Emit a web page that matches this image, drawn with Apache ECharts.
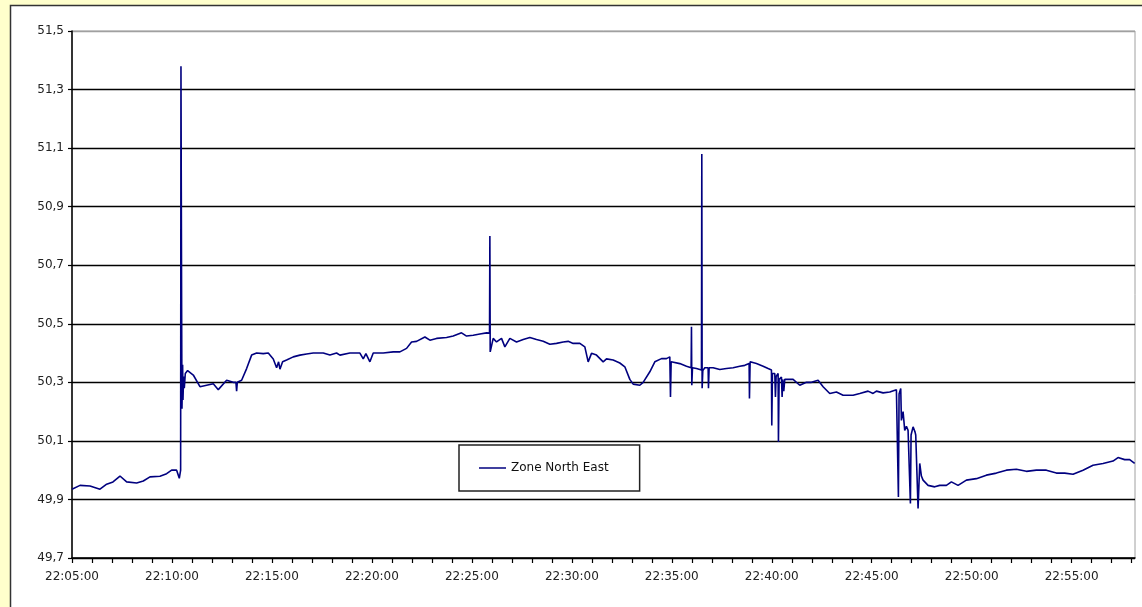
<!DOCTYPE html>
<html>
<head>
<meta charset="utf-8">
<script src="https://cdn.jsdelivr.net/npm/echarts@6/dist/echarts.min.js"></script>
<style>
  html, body { margin: 0; padding: 0; background: #FFFFCC; }
  #chart { width: 1142px; height: 607px; }
</style>
</head>
<body>
<div id="chart"></div>
<script>
// seconds after 22:05:00
const seconds = [
  0,24,54,84,104,123,144,164,194,214,234,264,284,299,314,322,326,327,328,329,330,332,333,335,337,340,347,364,384,404,424,439,464,484,492,494,496,509,524,539,554,574,589,604,614,620,624,627,632,644,664,684,704,724,754,774,794,
  804,834,864,874,882,894,904,934,964,984,1004,1019,1034,1059,1074,1094,1124,1144,1169,1184,1204,1224,1244,1253,1254,1255,1264,1274,1289,1299,1314,1334,1354,1374,1394,1414,1434,1454,1474,1489,1504,1524,1539,1549,1559,1574,1594,1604,1624,1644,
  1659,1674,1684,1704,1714,1734,1749,1769,1784,1794,1796,1798,1804,1824,1844,1858,1859,1860,1862,1874,1889,1890,1891,1893,1899,1909,1910,1912,1924,1944,1964,1984,2004,2019,2032,2033,2035,2039,2054,2074,2089,2099,2100,2102,2109,2111,2113,2119,2120,2122,2129,2131,2133,2136,2139,2144,2164,2184,2204,2219,2239,2254,2274,2294,2314,2344,2364,2389,2404,2414,2434,2454,2474,
  2479,2480,2482,2487,2489,2494,2499,2504,2509,2515,2516,2518,2524,2530,2532,2539,2544,2549,2554,2569,2589,2604,2624,2639,2659,2684,2714,2744,2774,2804,2834,2864,2894,2924,2954,2979,3004,3034,3064,3094,3124,3139,3159,3174,3189
];
const frequency = [
  49.935,49.948,49.946,49.935,49.952,49.96,49.98,49.96,49.956,49.963,49.977,49.979,49.988,50.0,50.0,49.972,50.0,51.38,50.95,50.55,50.21,50.36,50.24,50.32,50.28,50.33,50.34,50.325,50.285,50.29,50.295,50.275,50.307,50.30,50.30,50.27,50.30,50.307,50.347,50.393,50.40,50.398,50.40,50.38,50.35,50.37,50.345,50.34,50.37,50.376,50.387,50.393,50.397,50.40,50.40,50.393,50.40,
  50.393,50.40,50.40,50.38,50.398,50.37,50.40,50.40,50.404,50.404,50.416,50.438,50.44,50.455,50.444,50.45,50.453,50.458,50.469,50.458,50.461,50.465,50.469,50.468,50.80,50.404,50.45,50.438,50.45,50.421,50.45,50.438,50.446,50.453,50.446,50.44,50.43,50.433,50.438,50.44,50.433,50.433,50.421,50.37,50.399,50.393,50.37,50.38,50.376,50.366,
  50.353,50.31,50.294,50.29,50.30,50.336,50.37,50.381,50.381,50.387,50.25,50.37,50.37,50.364,50.355,50.35,50.49,50.29,50.35,50.347,50.342,51.08,50.28,50.34,50.35,50.35,50.28,50.35,50.35,50.344,50.347,50.35,50.355,50.358,50.364,50.245,50.37,50.376,50.364,50.355,50.347,50.342,50.153,50.33,50.33,50.25,50.32,50.33,50.096,50.31,50.318,50.25,50.31,50.27,50.31,50.307,50.31,50.29,50.30,50.30,50.307,50.285,50.262,50.267,50.256,50.256,50.262,50.27,50.262,50.27,50.264,50.267,50.275,
  50.27,49.908,50.26,50.279,50.17,50.2,50.136,50.15,50.136,50.13,49.886,50.12,50.148,50.13,50.12,49.869,50.023,49.98,49.966,49.948,49.943,49.948,49.948,49.96,49.948,49.966,49.971,49.983,49.99,50.0,50.003,49.996,50.0,50.0,49.99,49.99,49.986,50.0,50.017,50.023,50.031,50.043,50.036,50.036,50.023
];
const seriesName = 'Zone North East';
const startHour = 22, startMinute = 5;
const yMin = 49.7, yMax = 51.5, yStep = 0.2;
const xMax = 3190, xTickStep = 60, xLabelStep = 300;

const data = seconds.map((s, i) => [s, frequency[i]]);
const pad = n => String(n).padStart(2, '0');
function fmtTime(s) {
  const total = startHour * 3600 + startMinute * 60 + s;
  return pad(Math.floor(total / 3600)) + ':' + pad(Math.floor(total / 60) % 60) + ':' + pad(total % 60);
}

const chart = echarts.init(document.getElementById('chart'), null, { renderer: 'canvas' });
const font = 'DejaVu Sans';
chart.setOption({
  animation: false,
  backgroundColor: 'transparent',
  textStyle: { fontFamily: font },
  graphic: [{
    type: 'rect', z: -10, silent: true,
    shape: { x: 10.5, y: 5.5, width: 1140, height: 610 },
    style: { fill: '#ffffff', stroke: '#333333', lineWidth: 1.5 }
  }],
  grid: { left: 72, top: 31, right: 7, bottom: 49, show: true, borderColor: '#a0a0a0', borderWidth: 1, backgroundColor: '#ffffff' },
  legend: {
    data: [seriesName],
    left: 459, top: 445,
    padding: [17, 31, 17, 20],
    icon: 'rect',
    borderColor: '#222', borderWidth: 1.5, backgroundColor: '#fff',
    itemWidth: 27, itemHeight: 1.5,
    textStyle: { fontFamily: font, fontSize: 12, color: '#111' }
  },
  xAxis: {
    type: 'value', min: 0, max: xMax, interval: xTickStep,
    axisLine: { lineStyle: { color: '#000', width: 1.5 } },
    axisTick: { show: true, length: 5, lineStyle: { color: '#000', width: 1.2 } },
    splitLine: { show: false },
    axisLabel: {
      margin: 13, fontSize: 12, color: '#222', fontFamily: font,
      showMaxLabel: false,
      formatter: v => (v % xLabelStep === 0 ? fmtTime(v) : '')
    }
  },
  yAxis: {
    type: 'value', min: yMin, max: yMax, interval: yStep,
    axisLine: { show: true, lineStyle: { color: '#000', width: 1.5 } },
    axisTick: { show: true, length: 4, lineStyle: { color: '#000', width: 1.2 } },
    splitLine: { show: true, lineStyle: { color: ['#000','#000','#000','#000','#000','#000','#000','#000','#000','#a0a0a0'], width: 1.3 } },
    axisLabel: {
      margin: 8, fontSize: 12, color: '#222', fontFamily: font,
      formatter: v => v.toFixed(1).replace('.', ',')
    }
  },
  series: [{
    name: seriesName, type: 'line', data: data,
    symbol: 'none', smooth: false,
    lineStyle: { color: '#00007f', width: 1.6 },
    itemStyle: { color: '#00007f' }
  }]
});
</script>
</body>
</html>
